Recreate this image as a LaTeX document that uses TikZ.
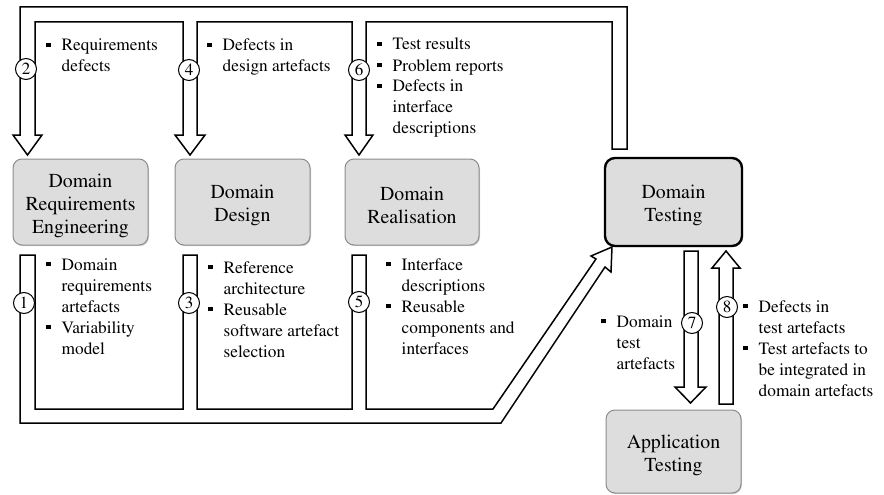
\documentclass[tikz,border=0pt]{standalone}
\usepackage[T1]{fontenc}
\usepackage{times}
\usetikzlibrary{shadows}
\newcommand\sqbul{\rule[3.6pt]{4.5pt}{4.5pt}}
\newcommand\blist[1]{\begin{tabular}[t]{@{}l@{\hspace{11pt}}l@{}}#1\end{tabular}}
\definecolor{boxgrey}{RGB}{221,221,221}
\begin{document}
\begin{tikzpicture}[x=1pt,y=-1pt,
  phase/.style={rectangle, rounded corners=9pt, fill=boxgrey, draw=black!45, line width=1pt,
    inner sep=0, drop shadow={shadow xshift=1pt, shadow yshift=-1.2pt, opacity=0.35}},
  phasetext/.style={align=center, inner sep=0, font=\fontsize{19.8}{23}\selectfont},
  hollow/.style={draw=black, fill=white, line width=1.5pt, line join=miter},
  numc/.style={circle, draw=black, fill=white, line width=1pt, minimum size=21pt, inner sep=0,
    font=\fontsize{17}{17}\selectfont},
  lst/.style={anchor=base west, inner sep=0, font=\fontsize{17.3}{21}\selectfont}]
\useasboundingbox (0,0) rectangle (884,495);

% feedback arrows into the domain sub-processes (2, 4, 6)
\draw[hollow] (27.5,155) -- (42,135) -- (35,135) -- (35,22) -- (183,22) -- (183,135)
  -- (175,135) -- (190,155) -- (205,135) -- (197,135) -- (197,22) -- (352,22) -- (352,135)
  -- (345,135) -- (359,155) -- (373,135) -- (366,135) -- (366,22) -- (612,22) -- (612,149)
  -- (627,149) -- (627,7) -- (20,7) -- (20,135) -- (13,135) -- cycle;

% artefact flow into domain testing (1, 3, 5)
\draw[hollow] (20,255) -- (35,255) -- (35,409) -- (183,409) -- (183,255) -- (197,255)
  -- (197,409) -- (352,409) -- (352,255) -- (366,255) -- (366,409) -- (493,409)
  -- (596,259) -- (591,256) -- (612,247) -- (611,272) -- (605,267) -- (501,423)
  -- (20,423) -- cycle;

% arrows between domain and application testing (7, 8)
\draw[hollow] (684,251) -- (698,251) -- (698,387) -- (706,387) -- (690.5,403) -- (675,387)
  -- (684,387) -- cycle;
\draw[hollow] (719,404) -- (719,268) -- (712,268) -- (726,251) -- (740,268) -- (733,268)
  -- (733,404) -- cycle;

% sub-processes
\node[phase, minimum width=135pt, minimum height=86pt] (dre) at (80.5,202) {};
\node[phase, minimum width=135pt, minimum height=86pt] (dd) at (242.5,202) {};
\node[phase, minimum width=134pt, minimum height=86pt] (dr) at (412,202) {};
\node[phase, draw=black, line width=2.4pt, rounded corners=10pt, minimum width=137pt,
  minimum height=88pt] (dt) at (673.5,202) {};
\node[phase, minimum width=135pt, minimum height=83pt] (at) at (673.5,451.5) {};

\node[phasetext, yshift=-3.5pt] (dre-t) at (dre.center) {Domain\\Requirements\\Engineering};
\node[phasetext, yshift=-3pt] (dd-t) at (dd.center) {Domain\\Design};
\node[phasetext, yshift=-3pt] (dr-t) at (dr.center) {Domain\\Realisation};
\node[phasetext, yshift=-3pt] (dt-t) at (dt.center) {Domain\\Testing};
\node[phasetext, yshift=-3.5pt] (at-t) at (at.center) {Application\\Testing};

% step numbers
\node[numc] (n2) at (26,69) {2};
\node[numc] (n4) at (189,70) {4};
\node[numc] (n6) at (359,70) {6};
\node[numc] (n1) at (24,303) {1};
\node[numc] (n3) at (189,303) {3};
\node[numc] (n5) at (359,302) {5};
\node[numc] (n7) at (692,323) {7};
\node[numc] (n8) at (727,307) {8};

% exchanged artefacts
\node[lst] (l2) at (46,51) {\blist{\sqbul & Requirements\\ & defects}};
\node[lst] (l4) at (207,51) {\blist{\sqbul & Defects in\\ & design artefacts}};
\node[lst] (l6) at (377,50) {\blist{\sqbul & Test results\\ \sqbul & Problem reports\\
  \sqbul & Defects in\\ & interface\\ & descriptions}};
\node[lst] (l1) at (46,270) {\blist{\sqbul & Domain\\ & requirements\\ & artefacts\\
  \sqbul & Variability\\ & model}};
\node[lst] (l3) at (208,273) {\blist{\sqbul & Reference\\ & architecture\\
  \sqbul & Reusable\\ & software artefact\\ & selection}};
\node[lst] (l5) at (386,270) {\blist{\sqbul & Interface\\ & descriptions\\
  \sqbul & Reusable\\ & components and\\ & interfaces}};
\node[lst] (l7) at (601,327) {\blist{\sqbul & Domain\\ & test\\ & artefacts}};
\node[lst] (l8) at (743,312) {\blist{\sqbul & Defects in\\ & test artefacts\\
  \sqbul & Test artefacts to\\ & be integrated in\\ & domain artefacts}};
\end{tikzpicture}
\end{document}
